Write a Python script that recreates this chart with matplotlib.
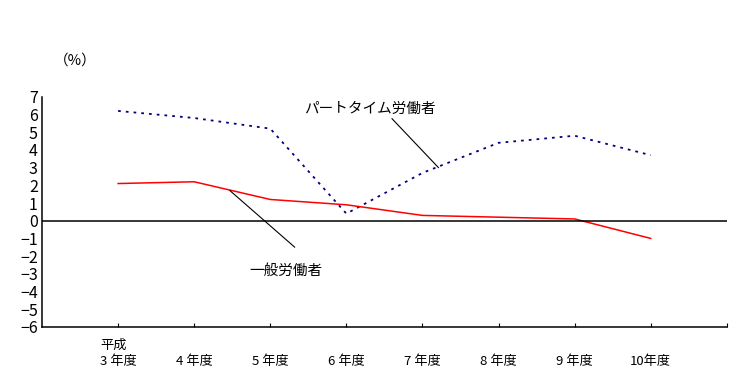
import matplotlib.pyplot as plt
import numpy as np

plt.rcParams['font.family'] = ['Noto Sans CJK JP', 'DejaVu Sans']

# fiscal years (Heisei) and growth rates (%)
years = [3, 4, 5, 6, 7, 8, 9, 10]
year_labels = ['3 年度', '4 年度', '5 年度', '6 年度', '7 年度', '8 年度', '9 年度', '10年度']
general = [2.1, 2.2, 1.2, 0.9, 0.3, 0.2, 0.1, -1.0]
part_time = [6.2, 5.8, 5.2, 0.4, 2.7, 4.4, 4.8, 3.7]
y_ticks = list(range(-6, 8))

fig = plt.figure(figsize=(7.54, 3.78), dpi=100)
ax = fig.add_axes([0.0557, 0.135, 0.9083, 0.609])

ax.plot(years, part_time, color='#000080', linewidth=1.3, linestyle=(0, (1.5, 2.8)))
ax.plot(years, general, color='red', linewidth=1.1)
ax.axhline(0, color='black', linewidth=1.1)

ax.set_xlim(2, 11)
ax.set_ylim(-6, 7)
ax.set_yticks(y_ticks)
ax.set_yticklabels([str(v).replace('-', '\u2212') for v in y_ticks], fontsize=11.5)
ax.set_xticks(years + [11])
ax.set_xticklabels(year_labels + [''], fontsize=9.5)
ax.tick_params(axis='x', direction='in', length=3, pad=20)
ax.tick_params(axis='y', length=0, pad=3)

for side in ['top', 'right']:
    ax.spines[side].set_visible(False)
for side in ['left', 'bottom']:
    ax.spines[side].set_linewidth(1.1)

# callouts
ax.plot([6.6, 7.21], [5.76, 3.0], color='black', linewidth=0.8)
ax.text(6.31, 6.33, 'パートタイム労働者', fontsize=10.5, ha='center', va='center')
ax.plot([4.47, 5.32], [1.70, -1.49], color='black', linewidth=0.8)
ax.text(5.21, -2.81, '一般労働者', fontsize=10.5, ha='center', va='center')

fig.text(100 / 754, 1 - 345 / 378, '平成', fontsize=9.5, ha='left', va='center')
fig.text(75 / 754, 1 - 61 / 378, '（%）', fontsize=10.5, ha='center', va='center')

fig.savefig('out.png', dpi=100)
